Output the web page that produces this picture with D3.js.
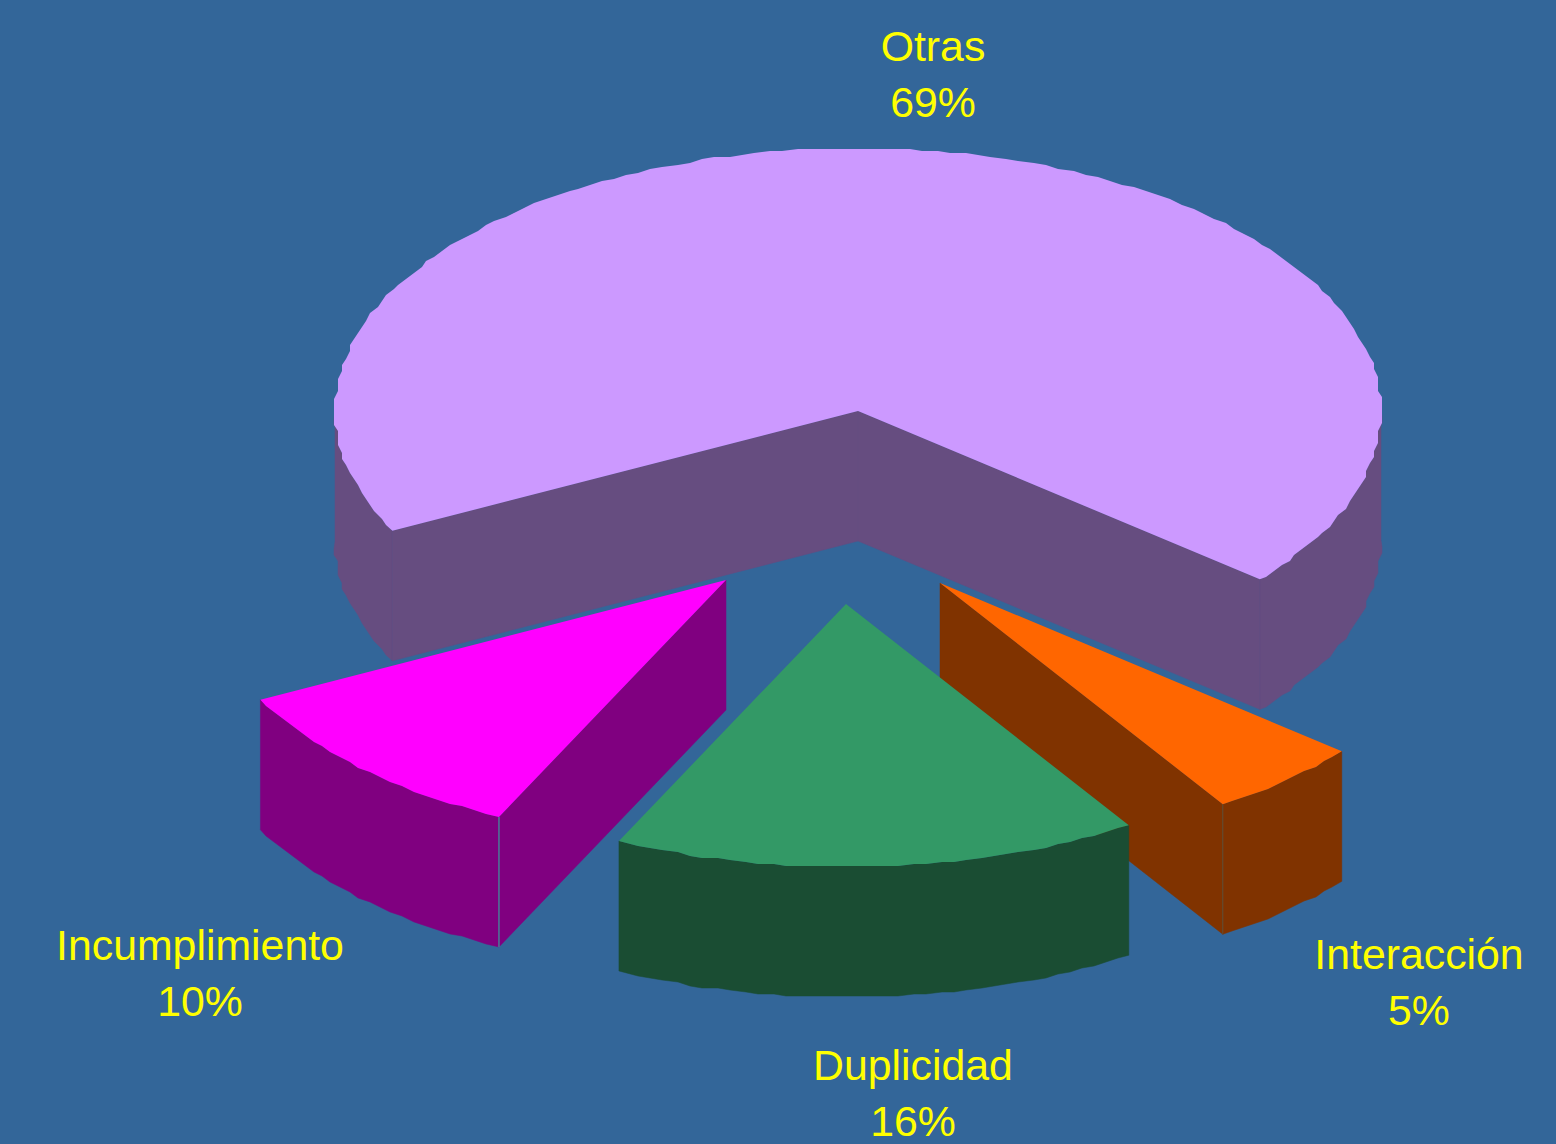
<!DOCTYPE html>
<html lang="es">
<head>
<meta charset="utf-8">
<title>Distribución por tipo</title>
<script src="https://cdnjs.cloudflare.com/ajax/libs/d3/7.9.0/d3.min.js"></script>
<style>
  html, body { margin: 0; padding: 0; background: #336699; overflow: hidden; }
  svg { display: block; }
  text { font-family: "Liberation Sans", Arial, sans-serif; font-size: 42.8px; fill: #FFFF00; text-anchor: middle; font-kerning: none; }
</style>
</head>
<body>
<script>
// Slices in clockwise drawing order
const categories = ["Otras", "Interacción", "Duplicidad", "Incumplimiento"];
const percents = [69, 5, 16, 10];
const topColors = ["#CC99FF", "#FF6600", "#339966", "#FF00FF"];
const sideColors = ["#664D80", "#803300", "#1A4D33", "#800080"];

// Exploded position of each slice's apex on the top face
const apexX = [858, 940, 846, 726];
const apexY = [411, 583, 604, 580];

// Label anchors and paint order (back to front)
const labelX = [933, 1419, 913, 200];
const labelY = [61, 969, 1080, 960];
const lineGap = 56;
const paintOrder = [0, 3, 1, 2];

const width = 1556, height = 1144;
const radiusX = 523, radiusY = 263, depth = 130;
const toRad = Math.PI / 180;
const firstAngle = -117 * toRad;
const arcStep = 1.5 * toRad;
const gridX = 4, gridY = 2;

const svg = d3.select("body").append("svg").attr("width", width).attr("height", height);
svg.append("rect").attr("width", width).attr("height", height).attr("fill", "#336699");

const slices = d3.pie().sort(null).value(d => d)
  .startAngle(firstAngle).endAngle(firstAngle + 2 * Math.PI)(percents);

const scaleX = d3.scaleLinear().domain([-1, 1]).range([-radiusX, radiusX]);
const scaleY = d3.scaleLinear().domain([-1, 1]).range([-radiusY, radiusY]);

// Rim point on the flattened circle; the tilt squeezes angles near the front
// and the coarse grid gives the slightly stepped outline
function rim(angle, snap) {
  const c = Math.cos(angle - 165 * toRad);
  const seen = angle - 2.3 * toRad * c * c;
  let x = scaleX(Math.sin(seen)), y = scaleY(-Math.cos(seen));
  if (snap) {
    x = Math.round(x / gridX) * gridX;
    y = Math.round(y / gridY) * gridY;
  }
  return [x, y];
}

function rimPoints(a0, a1) {
  const pts = [rim(a0, false)];
  for (let a = a0 + arcStep; a < a1 - arcStep / 2; a += arcStep) pts.push(rim(a, true));
  pts.push(rim(a1, false));
  return pts;
}

const line = d3.line();

paintOrder.forEach(i => {
  const s = slices[i];
  const cx = apexX[i], cy = apexY[i];
  const g = svg.append("g").attr("transform", `translate(${cx},${cy})`);

  // Outer wall: only the front half of the rim faces the viewer
  for (let turn = -1; turn <= 1; turn++) {
    const a0 = Math.max(s.startAngle, Math.PI / 2 + turn * 2 * Math.PI);
    const a1 = Math.min(s.endAngle, 3 * Math.PI / 2 + turn * 2 * Math.PI);
    if (a1 > a0) {
      const upper = rimPoints(a0, a1);
      const lower = upper.map(p => [p[0], p[1] + depth]).reverse();
      g.append("path").attr("d", line(upper.concat(lower)) + "Z")
        .attr("fill", sideColors[i]).attr("stroke", sideColors[i]).attr("stroke-width", 0.5);
    }
  }

  // Cut faces: each radial edge shows only when it faces the viewer
  const startEdge = rim(s.startAngle, false), endEdge = rim(s.endAngle, false);
  [[startEdge, startEdge[0] < 0], [endEdge, endEdge[0] > 0]].forEach(([p, visible]) => {
    if (!visible) return;
    const quad = [[0, 0], p, [p[0], p[1] + depth], [0, depth]];
    g.append("path").attr("d", line(quad) + "Z")
      .attr("fill", sideColors[i]).attr("stroke", sideColors[i]).attr("stroke-width", 0.5);
  });

  // Seam where a cut face meets the outer wall
  if (i === 1 || i === 3) {
    const p = i === 3 ? startEdge : endEdge;
    g.append("line")
      .attr("x1", p[0]).attr("y1", p[1]).attr("x2", p[0]).attr("y2", p[1] + depth)
      .attr("stroke", i === 3 ? "#4A7A96" : "#5E5238")
      .attr("stroke-width", i === 3 ? 1.5 : 1);
  }

  // Top face
  const top = [[0, 0]].concat(rimPoints(s.startAngle, s.endAngle));
  g.append("path").attr("d", line(top) + "Z").attr("fill", topColors[i]);
});

// Category name with its percentage below
categories.forEach((name, i) => {
  const t = svg.append("text").attr("x", labelX[i]).attr("y", labelY[i]);
  t.append("tspan").attr("x", labelX[i]).text(name);
  t.append("tspan").attr("x", labelX[i]).attr("dy", lineGap).text(percents[i] + "%");
});
</script>
</body>
</html>
